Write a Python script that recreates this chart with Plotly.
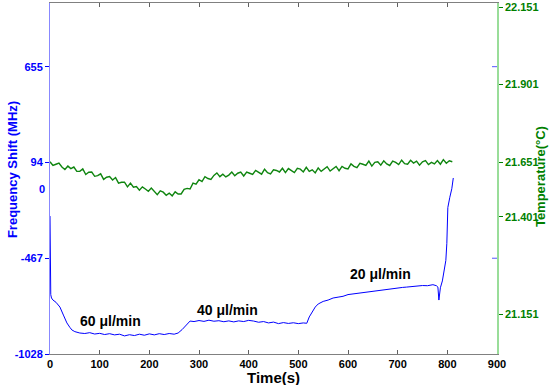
import plotly.graph_objects as go

# ---- data ----
blue_t = [0, 0.5, 1.5, 3, 6, 12, 20, 27, 34, 40, 44, 50, 60, 70, 80, 90, 100, 110, 120, 130,
          140, 150, 160, 170, 180, 190, 200, 210, 220, 230, 240, 250, 258, 266, 275, 282, 290,
          300, 310, 320, 330, 340, 350, 360, 370, 380, 390, 400, 410, 420, 430, 440, 450, 460,
          470, 480, 490, 500, 510, 517, 522, 528, 534, 540, 550, 560, 570, 580, 590, 600, 610,
          620, 630, 640, 650, 660, 670, 680, 690, 700, 710, 718, 730, 740, 750, 760, 771, 778,
          781, 783, 786, 790, 794, 797, 799, 800, 801, 805, 809, 812]
blue_v = [-220, -450, -680, -700, -712, -725, -753, -800, -846, -872, -887, -897, -905, -908,
          -903, -911, -907, -914, -909, -916, -912, -922, -915, -920, -912, -918, -910, -916,
          -909, -914, -908, -912, -905, -885, -858, -835, -838, -832, -837, -830, -836, -833,
          -839, -834, -840, -834, -838, -831, -835, -842, -838, -846, -841, -850, -844, -849,
          -845, -850, -846, -848, -811, -780, -753, -735, -720, -712, -700, -695, -690, -680,
          -676, -670, -667, -662, -659, -656, -652, -648, -645, -642, -638, -636, -632, -629,
          -627, -628, -622, -628, -636, -712, -640, -600, -540, -480, -380, -230, -170, -110,
          -60, 3]

temp_t = [i * 6 for i in range(136)]
temp_v = [21.652, 21.640, 21.644, 21.648, 21.635, 21.627, 21.638, 21.630, 21.635, 21.621,
          21.621, 21.629, 21.611, 21.618, 21.619, 21.605, 21.607, 21.613, 21.595, 21.602,
          21.604, 21.593, 21.601, 21.583, 21.586, 21.586, 21.571, 21.583, 21.570, 21.572,
          21.560, 21.571, 21.564, 21.557, 21.567, 21.555, 21.546, 21.558, 21.554, 21.544,
          21.551, 21.542, 21.555, 21.548, 21.548, 21.563, 21.566, 21.564, 21.583, 21.580,
          21.594, 21.588, 21.604, 21.598, 21.595, 21.608, 21.616, 21.604, 21.612, 21.603,
          21.609, 21.619, 21.607, 21.615, 21.619, 21.606, 21.619, 21.615, 21.611, 21.624,
          21.618, 21.612, 21.628, 21.617, 21.613, 21.626, 21.624, 21.619, 21.631, 21.617,
          21.630, 21.623, 21.617, 21.631, 21.628, 21.619, 21.634, 21.621, 21.626, 21.616,
          21.632, 21.621, 21.629, 21.636, 21.622, 21.629, 21.637, 21.623, 21.637, 21.631,
          21.629, 21.645, 21.637, 21.633, 21.647, 21.644, 21.640, 21.654, 21.638, 21.650,
          21.652, 21.641, 21.655, 21.645, 21.640, 21.654, 21.650, 21.643, 21.657, 21.646,
          21.644, 21.657, 21.648, 21.654, 21.641, 21.652, 21.656, 21.643, 21.650, 21.645,
          21.656, 21.644, 21.659, 21.647, 21.655, 21.652]

left_tickvals = [655, 94, -467, -1028]
left_ticktext = ["655", "94", "-467", "-1028"]
right_tickvals = [22.151, 21.901, 21.651, 21.474, 21.161]
right_ticktext = ["22.151", "21.901", "21.651", "21.401", "21.151"]

labels_text = ["60 μl/min", "40 μl/min", "20 μl/min"]
labels_t = [121, 358, 665]
labels_v = [-835, -770, -559]

BLUE = "#0000ff"
GREEN = "#008000"
FONT = "Liberation Sans"

fig = go.Figure()
fig.add_trace(go.Scatter(x=temp_t, y=temp_v, mode="lines", yaxis="y2",
                         line=dict(color="#0f850f", width=1.4), showlegend=False))
fig.add_trace(go.Scatter(x=blue_t, y=blue_v, mode="lines", yaxis="y",
                         line=dict(color=BLUE, width=1), showlegend=False))

for txt, t, v in zip(labels_text, labels_t, labels_v):
    fig.add_annotation(x=t, y=v, xref="x", yref="y", text=txt, showarrow=False,
                       font=dict(family=FONT, size=14, color="black", weight="bold"))

fig.add_annotation(x=0, y=-62, xref="paper", yref="y", text="0", showarrow=False,
                   xanchor="right", xshift=-3,
                   font=dict(family=FONT, size=11, color=BLUE, weight="bold"))

# axis titles
fig.add_annotation(x=0.5, y=-0.066, xref="paper", yref="paper", text="Time(s)",
                   showarrow=False, yanchor="middle",
                   font=dict(family=FONT, size=15, color="black", weight="bold"))
fig.add_annotation(x=-38 / 447, y=0.524, xref="paper", yref="paper",
                   text="Frequency Shift (MHz)", textangle=-90, showarrow=False,
                   xanchor="center", yanchor="middle",
                   font=dict(family=FONT, size=13, color=BLUE, weight="bold"))
fig.add_annotation(x=(540 - 50) / 447, y=0.504, xref="paper", yref="paper",
                   text="Temperature(°C)", textangle=-90, showarrow=False,
                   xanchor="center", yanchor="middle",
                   font=dict(family=FONT, size=13, color=GREEN, weight="bold"))

for v in [655, -467]:
    fig.add_shape(type="line", xref="paper", yref="y", x0=1, x1=1 - 5 / 447, y0=v, y1=v,
                  line=dict(color="#5555ff", width=1))

fig.update_layout(
    width=550, height=385,
    margin=dict(l=50, r=53, t=3, b=31, autoexpand=False),
    paper_bgcolor="white", plot_bgcolor="white",
    xaxis=dict(range=[0, 900], dtick=100, tick0=0, ticks="inside", ticklen=4,
               showline=True, linecolor="#808080", linewidth=1, mirror="ticks",
               tickcolor="#606060", showgrid=False, zeroline=False, automargin=False,
               tickfont=dict(family=FONT, size=11, color="black", weight="bold")),
    yaxis=dict(range=[-1028, 1028], tickvals=left_tickvals, ticktext=left_ticktext,
               ticks="outside", ticklen=4, tickcolor=BLUE, showline=True,
               linecolor="#8888ff", linewidth=1, showgrid=False, zeroline=False,
               automargin=False,
               tickfont=dict(family=FONT, size=11, color=BLUE, weight="bold")),
    yaxis2=dict(range=[21.032, 22.164], overlaying="y", side="right",
                tickvals=right_tickvals, ticktext=right_ticktext,
                ticks="outside", ticklen=4, tickcolor=GREEN, showline=True,
                linecolor="#99dd99", linewidth=1.5, showgrid=False, zeroline=False,
                automargin=False,
                tickfont=dict(family=FONT, size=11, color=GREEN, weight="bold")),
)

fig.write_html("out.html", config={"displayModeBar": False},
               post_script="document.body.style.margin='0';document.body.style.padding='0';")
